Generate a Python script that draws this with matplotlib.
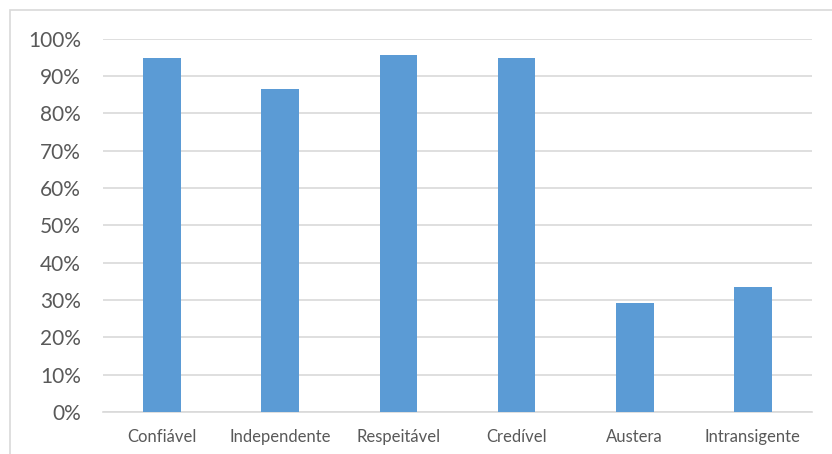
import matplotlib
matplotlib.use("Agg")
import matplotlib.pyplot as plt
from matplotlib.patches import Rectangle
from matplotlib.ticker import PercentFormatter

categories = ["Confiável", "Independente", "Respeitável", "Credível", "Austera", "Intransigente"]
values = [0.949, 0.866, 0.957, 0.949, 0.291, 0.334]
yticks = [0.0, 0.1, 0.2, 0.3, 0.4, 0.5, 0.6, 0.7, 0.8, 0.9, 1.0]

W, H = 832, 454
fig = plt.figure(figsize=(W / 100, H / 100), dpi=100)
plt.rcParams["font.family"] = ["Lato", "DejaVu Sans"]

# light frame around the chart area
fig.patches.append(Rectangle((10 / W, -0.1), 1.2, (H - 10) / H + 0.1,
                             transform=fig.transFigure, fill=False,
                             edgecolor="#d9d9d9", linewidth=1.2))

ax = fig.add_axes([103 / W, 42 / H, (812 - 103) / W, (412.7 - 39.3) / H])
x = range(len(categories))
ax.bar(x, values, width=0.32, color="#5b9bd5", zorder=3)

ax.set_xlim(-0.5, len(categories) - 0.5)
ax.set_ylim(0, 1)
ax.set_yticks(yticks)
ax.yaxis.set_major_formatter(PercentFormatter(1.0, decimals=0))
ax.set_xticks(list(x))
ax.set_xticklabels(categories)

ax.grid(axis="y", color="#d9d9d9", linewidth=1.2, zorder=0)
for side in ["top", "right", "left"]:
    ax.spines[side].set_visible(False)
ax.spines["bottom"].set_color("#d9d9d9")
ax.spines["bottom"].set_linewidth(1.2)

ax.tick_params(axis="y", length=0, pad=16, labelsize=15, labelcolor="#595959")
ax.tick_params(axis="x", length=0, pad=12, labelsize=12, labelcolor="#595959")

fig.savefig("out.png", dpi=100)
